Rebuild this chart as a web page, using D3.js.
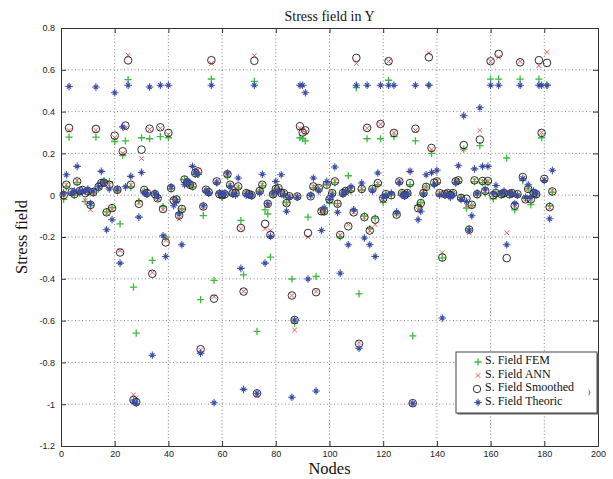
<!DOCTYPE html>
<meta charset="utf-8">
<style>
body { margin: 0; background: #fff; }
text { font-family: "Liberation Sans", Arial, sans-serif; }
.grid line { stroke: #6a6a6a; stroke-width: 0.8; stroke-dasharray: 1,2.5; }
.axis path, .axis line { stroke: #333; }
.axis text { font-size: 9px; fill: #222; }
.serif { font-family: "Liberation Serif", "Times New Roman", serif; fill: #111; }
</style>
<svg width="613" height="479"></svg>

<script src="https://d3js.org/d3.v7.min.js"></script>
<script>

// node numbers 1..183
var nodes = d3.range(1, 184);

var xTicks = [0, 20, 40, 60, 80, 100, 120, 140, 160, 180, 200];
var yTicks = [-1.2, -1, -0.8, -0.6, -0.4, -0.2, 0, 0.2, 0.4, 0.6, 0.8];

var fem = [
  -0.02, 0.04, 0.278, 0.01, 0.0, 0.06, 0.01, 0.02, -0.03, 0.015,
  -0.05, 0.01, 0.278, 0.03, 0.06, 0.07, -0.08, 0.065, -0.06, 0.257,
  0.02, -0.137, 0.19, 0.26, 0.553, 0.04, -0.44, -0.66, -0.03, 0.275,
  0.02, 0.01, 0.27, -0.312, 0.0, -0.01, 0.28, -0.055, -0.2, 0.275,
  0.03, -0.02, -0.02, -0.085, -0.066, 0.075, 0.06, 0.05, 0.04, 0.1,
  0.1, -0.5, -0.098, 0.02, 0.01, 0.556, -0.408, 0.06, 0.01, -0.01,
  0.0, 0.09, 0.045, 0.005, 0.01, 0.035, -0.121, -0.381, 0.01, 0.005,
  0.0, 0.545, -0.652, 0.02, 0.045, -0.07, -0.09, -0.296, 0.0, 0.03,
  0.03, 0.01, 0.005, -0.035, -0.01, -0.401, -0.612, -0.01, 0.275, 0.27,
  0.26, -0.105, 0.0, 0.035, -0.389, 0.03, -0.07, -0.08, 0.05, -0.038,
  0.01, 0.06, -0.04, -0.2, 0.01, 0.02, 0.093, 0.02, -0.07, 0.515,
  -0.472, 0.025, -0.1, 0.27, -0.16, 0.03, -0.11, 0.05, 0.27, -0.034,
  0.0, 0.55, 0.0, 0.28, -0.09, 0.06, 0.01, 0.0, 0.005, 0.05,
  -0.673, 0.26, -0.05, -0.035, 0.01, 0.04, 0.526, 0.2, 0.05, 0.06,
  0.005, -0.3, 0.0, 0.005, 0.0, 0.01, 0.06, 0.065, -0.01, 0.22,
  -0.062, -0.16, -0.05, 0.065, 0.0, 0.237, 0.06, 0.01, 0.06, 0.555,
  -0.018, 0.005, 0.555, 0.0, 0.005, 0.178, 0.0, 0.01, -0.07, 0.0,
  0.555, 0.07, -0.015, 0.03, -0.045, 0.005, 0.0, 0.555, 0.275, 0.07,
  0.526, -0.05, 0.015
];

var ann = [
  -0.01, 0.05, 0.31, 0.01, 0.01, 0.07, 0.015, 0.02, -0.025, 0.02,
  -0.07, 0.01, 0.31, 0.04, 0.055, 0.065, -0.085, 0.05, -0.065, 0.275,
  0.02, -0.265, 0.2, 0.32, 0.67, 0.05, -0.955, -0.97, -0.035, 0.175,
  0.02, 0.015, 0.315, -0.37, 0.005, -0.02, 0.32, -0.07, -0.215, 0.29,
  0.035, -0.025, -0.02, -0.114, -0.07, 0.07, 0.06, 0.055, 0.045, 0.115,
  0.12, -0.74, -0.06, 0.025, 0.01, 0.63, -0.485, 0.065, 0.005, 0.0,
  0.005, 0.1, 0.05, 0.01, 0.01, 0.04, -0.16, -0.46, 0.01, 0.005,
  0.0, 0.668, -0.96, 0.02, 0.05, -0.16, -0.05, -0.17, 0.0, 0.03,
  0.03, 0.01, 0.01, -0.04, -0.005, -0.48, -0.645, -0.005, 0.32, 0.31,
  0.3, -0.2, 0.0, 0.04, -0.46, 0.034, -0.075, -0.08, 0.055, -0.02,
  0.01, 0.066, -0.045, -0.19, 0.01, 0.02, -0.14, 0.03, -0.082, 0.63,
  -0.705, 0.03, -0.105, 0.32, -0.17, 0.03, -0.14, 0.055, 0.34, -0.02,
  0.0, 0.64, 0.005, 0.3, -0.09, 0.066, 0.01, 0.005, 0.01, 0.119,
  -1.0, 0.31, -0.07, -0.05, 0.015, 0.04, 0.68, 0.22, 0.109, 0.065,
  0.01, -0.275, 0.005, 0.01, 0.0, 0.01, 0.066, 0.07, -0.01, 0.22,
  -0.05, -0.18, -0.05, 0.07, 0.005, 0.31, 0.065, 0.02, 0.065, 0.64,
  0.0, 0.01, 0.66, 0.005, 0.01, -0.18, 0.005, 0.01, -0.05, 0.0,
  0.64, 0.08, -0.02, 0.03, -0.02, 0.01, 0.0, 0.62, 0.3, 0.075,
  0.684, -0.06, 0.02
];

var smooth = [
  0.0, 0.05, 0.322, 0.015, 0.005, 0.066, 0.02, 0.025, 0.01, 0.02,
  -0.046, 0.015, 0.317, 0.04, 0.058, 0.06, -0.082, 0.05, -0.062, 0.285,
  0.026, -0.274, 0.21, 0.333, 0.645, 0.05, -0.98, -0.99, -0.041, 0.218,
  0.025, 0.01, 0.318, -0.376, 0.005, -0.015, 0.325, -0.066, -0.226, 0.298,
  0.034, -0.025, -0.02, -0.097, -0.066, 0.075, 0.06, 0.05, 0.045, 0.106,
  0.114, -0.737, -0.054, 0.026, 0.015, 0.646, -0.495, 0.066, 0.005, 0.0,
  0.005, 0.1, 0.05, 0.01, 0.01, 0.042, -0.157, -0.461, 0.01, 0.005,
  0.0, 0.643, -0.948, 0.02, 0.05, -0.137, -0.041, -0.19, 0.005, 0.03,
  0.034, 0.01, 0.01, -0.038, -0.005, -0.48, -0.597, -0.006, 0.33, 0.3,
  0.31, -0.181, -0.005, 0.042, -0.464, 0.034, -0.077, -0.077, 0.05, -0.02,
  0.01, 0.066, -0.041, -0.19, 0.01, 0.02, -0.149, 0.03, -0.082, 0.657,
  -0.711, 0.03, -0.105, 0.322, -0.169, 0.03, -0.117, 0.058, 0.341, -0.015,
  0.005, 0.641, 0.0, 0.298, -0.093, 0.066, 0.01, 0.0, 0.01, 0.058,
  -0.995, 0.318, -0.062, -0.038, 0.01, 0.04, 0.66, 0.226, 0.06, 0.066,
  0.01, -0.298, 0.005, 0.01, 0.0, 0.01, 0.066, 0.071, -0.013, 0.24,
  -0.017, -0.165, -0.046, 0.071, 0.005, 0.266, 0.068, 0.02, 0.068, 0.641,
  0.0, 0.01, 0.676, 0.005, 0.01, -0.301, 0.005, 0.01, -0.05, 0.005,
  0.636, 0.087, -0.02, 0.03, -0.02, 0.01, 0.005, 0.646, 0.298, 0.078,
  0.633, -0.057, 0.018
];

var theo = [
  0.01, 0.098, 0.52, 0.01, 0.02, 0.138, 0.02, 0.015, 0.02, 0.03,
  -0.04, 0.02, 0.518, 0.04, 0.114, 0.06, -0.165, 0.03, -0.117, 0.49,
  0.03, -0.325, 0.327, 0.04, 0.526, 0.09, -0.985, -0.995, -0.105, 0.109,
  0.01, 0.005, 0.518, -0.766, 0.01, -0.01, 0.526, -0.194, -0.293, 0.526,
  0.04, -0.05, -0.03, -0.09, -0.237, 0.05, 0.07, 0.06, 0.138, 0.106,
  0.1, -0.756, -0.05, 0.02, 0.01, 0.526, -0.993, 0.06, 0.01, 0.005,
  0.01, 0.106, 0.04, 0.005, 0.0, 0.082, -0.35, -0.929, 0.0, 0.0,
  -0.005, 0.526, -0.948, 0.01, 0.1, -0.325, -0.041, -0.197, 0.01, 0.066,
  0.02, 0.098, 0.0, -0.077, -0.01, -0.967, -0.597, -0.01, 0.526, 0.526,
  0.49, -0.401, 0.0, 0.082, -0.937, 0.02, -0.169, -0.06, 0.066, -0.02,
  0.0, 0.135, -0.082, -0.373, 0.005, 0.02, -0.237, 0.04, -0.07, 0.526,
  -0.732, 0.058, -0.205, 0.526, -0.237, 0.02, -0.293, 0.106, 0.526, -0.01,
  0.0, 0.526, 0.01, 0.526, -0.08, 0.06, 0.0, -0.005, 0.01, 0.114,
  -0.995, 0.526, -0.117, -0.077, 0.005, 0.098, 0.526, 0.109, 0.05, 0.119,
  0.0, -0.588, 0.0, 0.005, -0.01, 0.0, 0.06, 0.141, -0.02, 0.38,
  -0.03, -0.168, -0.098, 0.126, 0.01, 0.418, 0.138, 0.03, 0.138, 0.526,
  0.01, 0.046, 0.526, 0.01, 0.02, -0.237, 0.01, 0.005, -0.04, 0.0,
  0.526, 0.08, -0.01, 0.05, -0.01, 0.02, 0.01, 0.526, 0.526, 0.07,
  0.526, -0.113, 0.119
];

var seriesNames = ["S. Field FEM", "S. Field ANN", "S. Field Smoothed", "S. Field Theoric"];

var svg = d3.select("svg"),
    margin = {top: 28, right: 15, bottom: 33, left: 61},
    width = +svg.attr("width") - margin.left - margin.right,
    height = +svg.attr("height") - margin.top - margin.bottom;

var g = svg.append("g").attr("transform", "translate(" + margin.left + "," + margin.top + ")");

var x = d3.scaleLinear().domain([0, 200]).range([0, width]);
var y = d3.scaleLinear().domain([-1.2, 0.8]).range([height, 0]);

var fmt = function(d) { return String(Math.round(d * 10) / 10); };

// dotted grid (matlab "grid on")
var grid = g.append("g").attr("class", "grid");
grid.selectAll("line.v").data(xTicks.slice(1, -1)).enter().append("line")
    .attr("x1", function(d) { return x(d); }).attr("x2", function(d) { return x(d); })
    .attr("y1", 0).attr("y2", height);
grid.selectAll("line.h").data(yTicks.slice(1, -1)).enter().append("line")
    .attr("x1", 0).attr("x2", width)
    .attr("y1", function(d) { return y(d); }).attr("y2", function(d) { return y(d); });

// axes, ticks pointing inward on all four sides
g.append("g").attr("class", "axis")
    .attr("transform", "translate(0," + height + ")")
    .call(d3.axisBottom(x).tickValues(xTicks).tickFormat(fmt).tickSize(-5).tickSizeOuter(0).tickPadding(5));
g.append("g").attr("class", "axis")
    .call(d3.axisLeft(y).tickValues(yTicks).tickFormat(fmt).tickSize(-5).tickSizeOuter(0).tickPadding(6));
g.append("g").attr("class", "axis")
    .call(d3.axisTop(x).tickValues(xTicks).tickFormat("").tickSize(-5).tickSizeOuter(0));
g.append("g").attr("class", "axis")
    .attr("transform", "translate(" + width + ",0)")
    .call(d3.axisRight(y).tickValues(yTicks).tickFormat("").tickSize(-5).tickSizeOuter(0));

// marker shapes
var plusPath = "M-3.6,0H3.6M0,-3.6V3.6";
var crossPath = "M-2.3,-2.3L2.3,2.3M-2.3,2.3L2.3,-2.3";
var starPath = "M-3.8,0H3.8M0,-3.8V3.8M-2.1,-2.1L2.1,2.1M-2.1,2.1L2.1,-2.1";

var colFem = "#3cbc3c", colAnn = "#f25a5a", colSmooth = "#1a1a1a", colTheo = "#3b4ca6";

function pts(vals) {
  return nodes.map(function(n, i) { return {n: n, v: vals[i]}; });
}

var plot = g.append("g");

plot.append("g").selectAll("path").data(pts(fem)).enter().append("path")
    .attr("d", plusPath)
    .attr("transform", function(d) { return "translate(" + x(d.n) + "," + y(d.v) + ")"; })
    .attr("stroke", colFem).attr("stroke-width", 1.3).attr("fill", "none");

plot.append("g").selectAll("path").data(pts(ann)).enter().append("path")
    .attr("d", crossPath)
    .attr("transform", function(d) { return "translate(" + x(d.n) + "," + y(d.v) + ")"; })
    .attr("stroke", colAnn).attr("stroke-width", 1).attr("fill", "none");

plot.append("g").selectAll("circle").data(pts(smooth)).enter().append("circle")
    .attr("cx", function(d) { return x(d.n); })
    .attr("cy", function(d) { return y(d.v); })
    .attr("r", 3.8)
    .attr("stroke", colSmooth).attr("stroke-width", 0.9).attr("fill", "none");

plot.append("g").selectAll("path").data(pts(theo)).enter().append("path")
    .attr("d", starPath)
    .attr("transform", function(d) { return "translate(" + x(d.n) + "," + y(d.v) + ")"; })
    .attr("stroke", colTheo).attr("stroke-width", 1.05).attr("fill", "none");

// titles
svg.append("text").attr("class", "serif")
    .attr("x", margin.left + width / 2).attr("y", 21)
    .attr("text-anchor", "middle").style("font-size", "14px")
    .text("Stress field in Y");
svg.append("text").attr("class", "serif")
    .attr("x", margin.left + width / 2).attr("y", 474)
    .attr("text-anchor", "middle").style("font-size", "16.5px")
    .text("Nodes");
svg.append("text").attr("class", "serif")
    .attr("transform", "translate(27," + (margin.top + height / 2) + ") rotate(-90)")
    .attr("text-anchor", "middle").style("font-size", "16.5px")
    .text("Stress field");

// legend
var lg = svg.append("g").attr("transform", "translate(456,352)");
lg.append("rect").attr("x", 1.5).attr("y", 1.5).attr("width", 141).attr("height", 61)
    .attr("fill", "#666");
lg.append("rect").attr("x", 0).attr("y", 0).attr("width", 141).attr("height", 61)
    .attr("fill", "#fff").attr("stroke", "#444").attr("stroke-width", 1);

var legendShapes = [
  {d: plusPath, c: colFem, w: 1.3},
  {d: crossPath, c: colAnn, w: 1},
  {circle: true, c: colSmooth, w: 0.9},
  {d: starPath, c: colTheo, w: 1.05}
];
var rowY = [8, 21.5, 35, 48.5];

legendShapes.forEach(function(s, i) {
  var row = lg.append("g").attr("transform", "translate(22," + rowY[i] + ")");
  if (s.circle) {
    row.append("circle").attr("r", 3.7).attr("cx", -1).attr("cy", 2)
        .attr("fill", "none").attr("stroke", s.c).attr("stroke-width", s.w);
  } else {
    row.append("path").attr("d", s.d).attr("transform", "translate(0,2)")
        .attr("fill", "none").attr("stroke", s.c).attr("stroke-width", s.w);
  }
  lg.append("text").attr("class", "serif")
    .attr("x", 29).attr("y", rowY[i] + 4)
    .style("font-size", "12px")
    .text(seriesNames[i]);
});
lg.append("text").attr("class", "serif").attr("x", 132).attr("y", 42)
    .style("font-size", "7px").text(")");

</script>
